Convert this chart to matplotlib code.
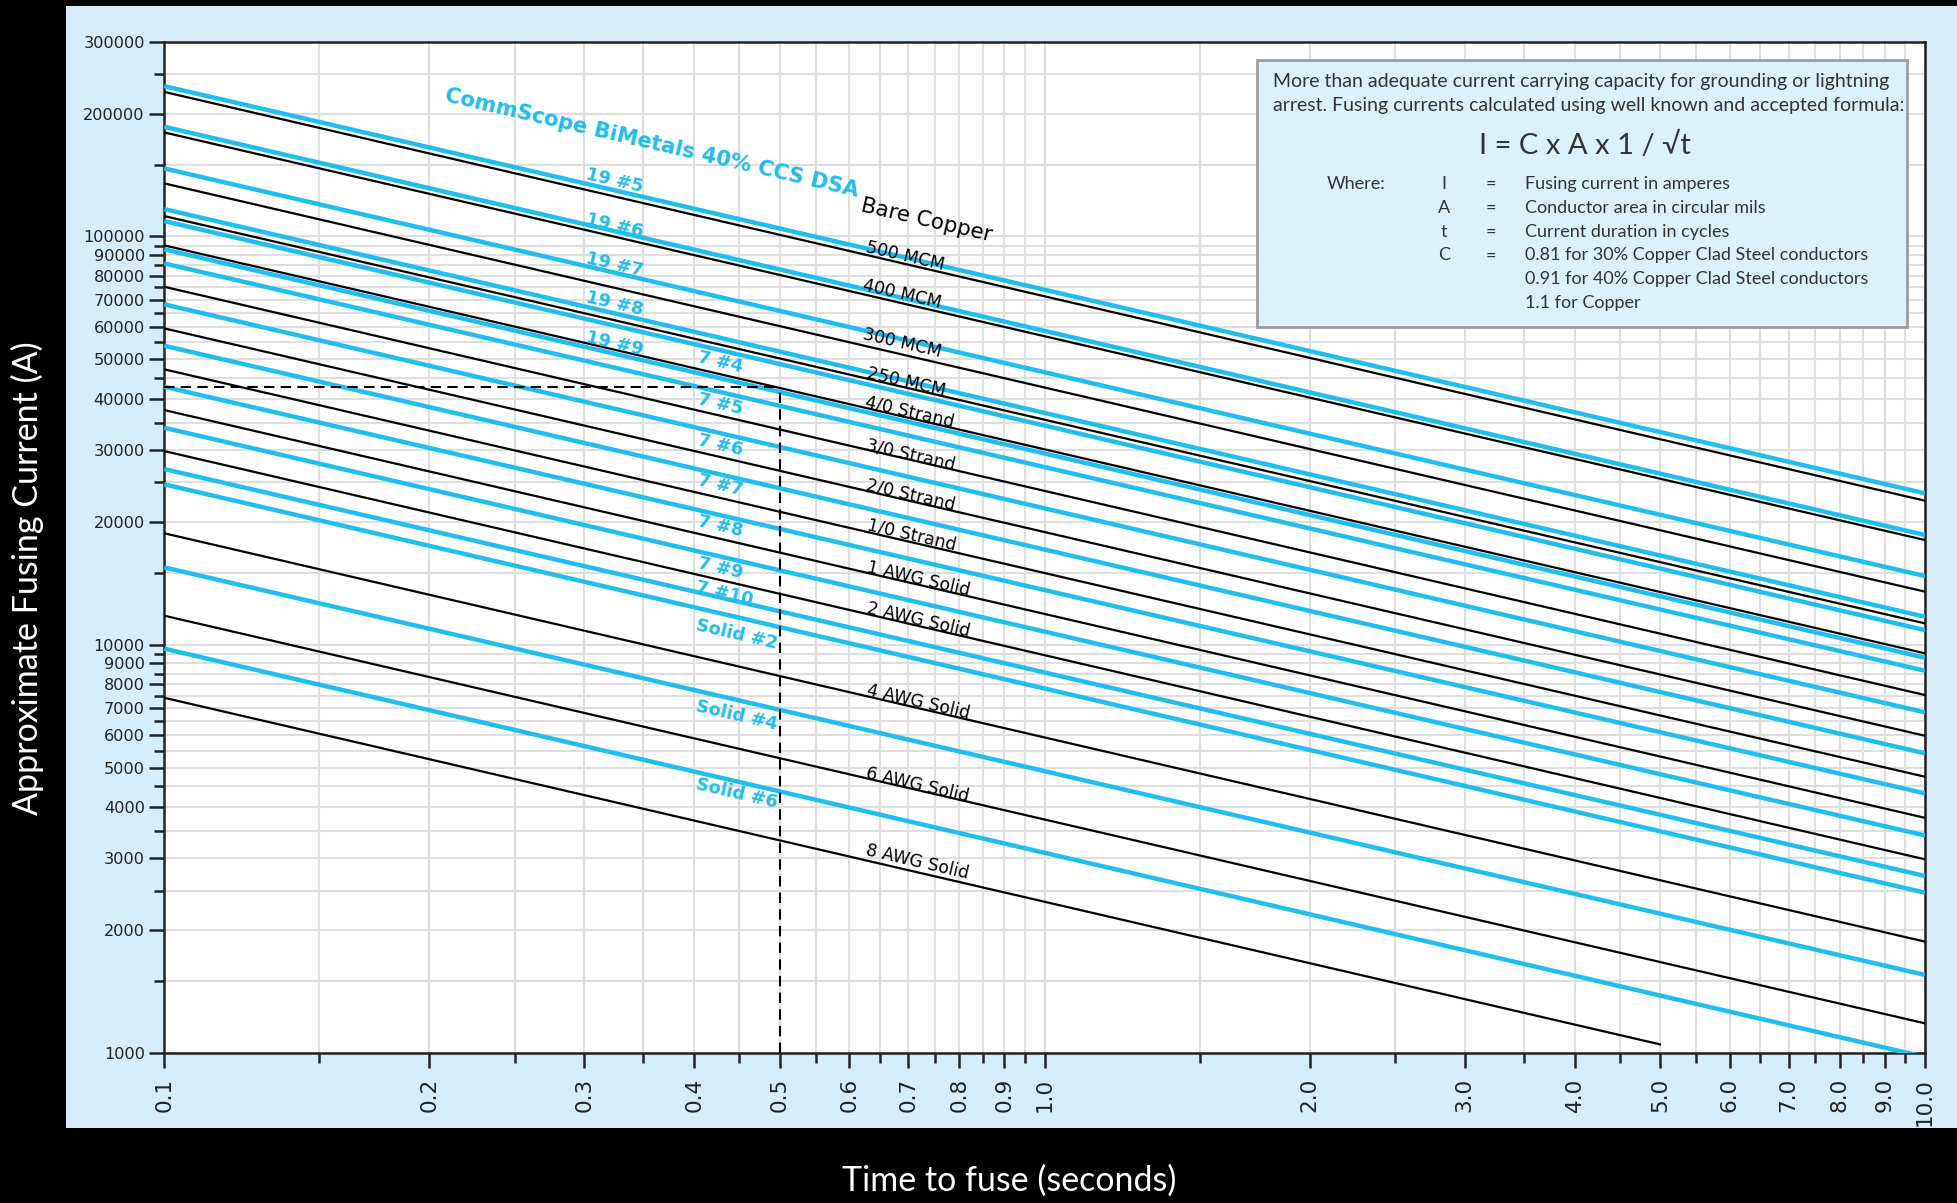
import matplotlib.pyplot as plt
import numpy as np
from matplotlib.patches import Rectangle
from matplotlib.ticker import FixedLocator, NullFormatter

# CommScope BiMetals 40% CCS DSA conductors (cyan) - current at t=0.1s and t=10s
ccs_labels = ['19 #5', '19 #6', '19 #7', '19 #8', '7 #4', '19 #9', '7 #5', '7 #6',
              '7 #7', '7 #8', '7 #9', '7 #10', 'Solid #2', 'Solid #4', 'Solid #6']
ccs_i_start = [233500, 185700, 146800, 116700, 109100, 93000, 85900, 68200,
               54000, 42850, 34000, 26940, 24710, 15470, 9780]
ccs_i_end = [23490, 18570, 14730, 11710, 10860, 9294, 8636, 6830,
             5420, 4325, 3410, 2714, 2470, 1553, 978]

# bare copper conductors (black)
copper_labels = ['500 MCM', '400 MCM', '300 MCM', '250 MCM', '4/0 Strand', '3/0 Strand',
                 '2/0 Strand', '1/0 Strand', '1 AWG Solid', '2 AWG Solid', '4 AWG Solid',
                 '6 AWG Solid', '8 AWG Solid']
copper_i_start = [226000, 179800, 134900, 112200, 95100, 75300, 59550, 47270,
                  37570, 29810, 18750, 11780, 7414]
copper_i_end = [22530, 18050, 13490, 11280, 9527, 7530, 5985, 4750,
                3767, 2981, 1874, 1182, 1050]
copper_t_end = [10.0] * 12 + [5.0]
t_start = 0.1
ccs_t_end = 10.0

# example reading marked with dashed lines
marker_time = 0.5
marker_current = 42800

x_major = [0.1, 0.2, 0.3, 0.4, 0.5, 0.6, 0.7, 0.8, 0.9, 1.0,
           2.0, 3.0, 4.0, 5.0, 6.0, 7.0, 8.0, 9.0, 10.0]
x_major_labels = ['%.1f' % v for v in x_major]
y_major = [1000, 2000, 3000, 4000, 5000, 6000, 7000, 8000, 9000,
           10000, 20000, 30000, 40000, 50000, 60000, 70000, 80000, 90000,
           100000, 200000, 300000]
y_major_labels = [str(v) for v in y_major]

# label layout: position along time axis and vertical offset (px) from line
ccs_label_t = [0.325, 0.325, 0.325, 0.325, 0.428, 0.325, 0.428, 0.428,
               0.428, 0.428, 0.428, 0.433, 0.447, 0.447, 0.447]
ccs_label_dy = [9.5, 6, 8, 10, -12, 10, -12, -12, -11, -11, -12, 5, -17, -16, -12]
copper_label_t = [0.694, 0.688, 0.688, 0.697, 0.703, 0.705, 0.705, 0.707,
                  0.718, 0.718, 0.718, 0.716, 0.716]
copper_label_dy = [8, 9, 11, 6, 6, 5, 6, 7, 6, 6, 6, 5, 10]

CYAN = '#1fbdf0'
PANEL = '#d6ecf8'
W, H = 1957, 1203
BOX_FONT = ['Lato', 'DejaVu Sans']


def line_value(t, t0, t1, i0, i1):
    return np.exp(np.interp(np.log(t), [np.log(t0), np.log(t1)], [np.log(i0), np.log(i1)]))


fig = plt.figure(figsize=(W / 100, H / 100), dpi=100, facecolor='black')
fig.patches.append(Rectangle((66 / W, 1 - 1128 / H), (W - 66) / W, 1122 / H,
                             transform=fig.transFigure, facecolor=PANEL,
                             edgecolor='none', zorder=-1))

ax = fig.add_axes([164.3 / W, 1 - 1053 / H, 1760.7 / W, 1011.3 / H])
ax.set_xscale('log')
ax.set_yscale('log')
ax.set_xlim(0.1, 10)
ax.set_ylim(1000, 300000)
ax.set_facecolor('white')

x_minor = list(np.arange(0.15, 1.0, 0.1)) + list(np.arange(1.5, 10.0, 1.0))
y_minor = (list(np.arange(1500, 10000, 1000)) + list(np.arange(15000, 100000, 10000))
           + [150000, 250000])
ax.xaxis.set_major_locator(FixedLocator(x_major))
ax.xaxis.set_minor_locator(FixedLocator(x_minor))
ax.yaxis.set_major_locator(FixedLocator(y_major))
ax.yaxis.set_minor_locator(FixedLocator(y_minor))
ax.set_xticklabels(x_major_labels, rotation=90, fontsize=15.5, color='#222222')
ax.set_yticklabels(y_major_labels, fontsize=11.6, color='#222222')
ax.xaxis.set_minor_formatter(NullFormatter())
ax.yaxis.set_minor_formatter(NullFormatter())
ax.tick_params(which='major', length=11, width=1.8, color='#222222')
ax.tick_params(which='minor', length=7, width=1.8, color='#222222')
ax.tick_params(axis='x', which='major', pad=7)
ax.tick_params(axis='y', which='major', pad=3)
ax.grid(which='both', color='#dedede', lw=1.5)
ax.set_axisbelow(True)
for sp in ax.spines.values():
    sp.set_linewidth(1.8)
    sp.set_color('#222222')

for i0, i1, te in zip(copper_i_start, copper_i_end, copper_t_end):
    ax.plot([t_start, te], [i0, i1], color='black', lw=1.6, zorder=3)
for i0, i1 in zip(ccs_i_start, ccs_i_end):
    ax.plot([t_start, ccs_t_end], [i0, i1], color=CYAN, lw=3.2, zorder=4,
            solid_capstyle='butt')

ax.plot([t_start, marker_time], [marker_current, marker_current], color='black',
        lw=1.5, dashes=(5, 3), zorder=5)
ax.plot([marker_time, marker_time], [1000, marker_current], color='black',
        lw=1.5, dashes=(5, 3), zorder=5)

# angle of the lines on screen
p = ax.transData.transform([(0.1, 1e5), (10, 1e4)])
angle = np.degrees(np.arctan2(p[1, 1] - p[0, 1], p[1, 0] - p[0, 0]))

for lab, i0, i1, t, dy in zip(ccs_labels, ccs_i_start, ccs_i_end, ccs_label_t, ccs_label_dy):
    y = line_value(t, t_start, ccs_t_end, i0, i1)
    ax.annotate(lab, xy=(t, y), xytext=(0, dy * 0.72), textcoords='offset points',
                rotation=angle, rotation_mode='anchor', ha='center', va='center',
                color=CYAN, fontsize=12.8, fontweight='bold', zorder=6)
for lab, i0, i1, te, t, dy in zip(copper_labels, copper_i_start, copper_i_end,
                                   copper_t_end, copper_label_t, copper_label_dy):
    y = line_value(t, t_start, te, i0, i1)
    ax.annotate(lab, xy=(t, y), xytext=(0, dy * 0.72), textcoords='offset points',
                rotation=angle, rotation_mode='anchor', ha='center', va='center',
                color='black', fontsize=12.4, zorder=6)

ax.text(0.277, 0.900, 'CommScope BiMetals 40% CCS DSA', transform=ax.transAxes,
        rotation=angle, rotation_mode='anchor', ha='center', va='center',
        color=CYAN, fontsize=15.2, fontweight='bold', zorder=6)
ax.text(0.433, 0.823, 'Bare Copper', transform=ax.transAxes,
        rotation=angle, rotation_mode='anchor', ha='center', va='center',
        color='black', fontsize=15.5, zorder=6)

# formula box
fig.patches.append(Rectangle((1257 / W, 1 - 327 / H), 650 / W, 267 / H,
                             transform=fig.transFigure, facecolor='#dcf0fa',
                             edgecolor='#9c9c9c', lw=2, zorder=5))


def ftext(x, y, s, **kw):
    kw.setdefault('fontsize', 13)
    kw.setdefault('ha', 'left')
    fig.text(x / W, 1 - y / H, s, va='center', color='#333333', family=BOX_FONT,
             zorder=6, **kw)


ftext(1273, 81, 'More than adequate current carrying capacity for grounding or lightning',
      fontsize=14)
ftext(1273, 105, 'arrest. Fusing currents calculated using well known and accepted formula:',
      fontsize=14)
ftext(1585, 145, 'I = C x A x 1 / √t', fontsize=21, ha='center')
ftext(1327, 184, 'Where:')
rows_sym = ['I', 'A', 't', 'C', '', '']
rows_txt = ['Fusing current in amperes', 'Conductor area in circular mils',
            'Current duration in cycles', '0.81 for 30% Copper Clad Steel conductors',
            '0.91 for 40% Copper Clad Steel conductors', '1.1 for Copper']
for k, (sym, txt) in enumerate(zip(rows_sym, rows_txt)):
    yy = 184 + k * 23.8
    if sym:
        ftext(1444, yy, sym, ha='center')
        ftext(1491, yy, '=', ha='center')
    ftext(1525, yy, txt)

fig.text(27 / W, 1 - 578 / H, 'Approximate Fusing Current (A)', rotation=90,
         color='white', fontsize=24.5, family=BOX_FONT, ha='center', va='center')
fig.text(1009 / W, 1 - 1181 / H, 'Time to fuse (seconds)', color='white',
         fontsize=24.5, family=BOX_FONT, ha='center', va='center')

fig.savefig('out.png', dpi=100, facecolor='black')
